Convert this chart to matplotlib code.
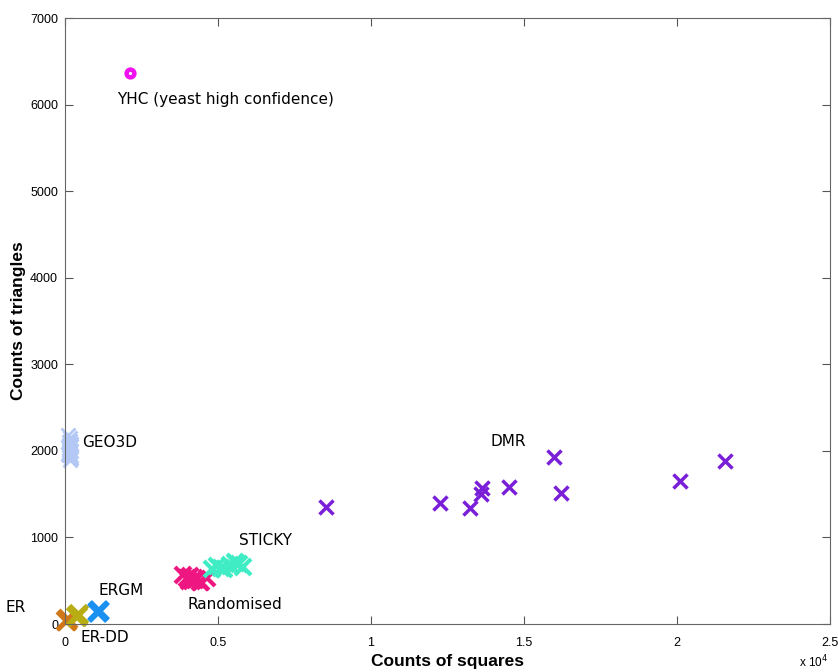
import numpy as np
import matplotlib.pyplot as plt

# Counts of squares (x) and triangles (y) for each network model
dmr_sq = [8530, 12250, 13240, 13630, 13600, 14500, 15980, 16200, 20100, 21570]
dmr_tri = [1351, 1397, 1340, 1570, 1500, 1582, 1928, 1513, 1651, 1882]

yhc_sq = [2120]
yhc_tri = [6362]

geo_sq = [110, 150, 180, 130, 160, 200, 120, 170, 140, 190, 150, 110, 180, 130, 160, 200, 140, 120]
geo_tri = [2180, 2120, 2060, 2010, 1960, 1920, 2100, 2040, 1990, 1940, 2150, 1970, 2000, 2070, 1900, 2080, 2030, 1950]

er_sq = [60, 90, 40]
er_tri = [40, 55, 30]

erdd_sq = [380, 430, 350]
erdd_tri = [95, 110, 90]

ergm_sq = [1080, 1120]
ergm_tri = [140, 155]

rand_sq = [3850, 4000, 4150, 4300, 4450, 4650, 4100, 4250, 4400, 4050]
rand_tri = [570, 530, 500, 520, 490, 530, 560, 510, 480, 500]

sticky_sq = [4800, 4950, 5200, 5400, 5550, 5700, 5800, 5100, 5600]
sticky_tri = [630, 670, 640, 680, 720, 690, 660, 650, 710]

xticks = [0, 5000, 10000, 15000, 20000, 25000]
xticklabels = ['0', '0.5', '1', '1.5', '2', '2.5']
yticks = [0, 1000, 2000, 3000, 4000, 5000, 6000, 7000]

fig = plt.figure(figsize=(8.38, 6.72), dpi=100)
ax = fig.add_axes([0.0776, 0.0714, 0.9129, 0.9016])

mk = dict(linestyle='none', clip_on=False)
ax.plot(geo_sq, geo_tri, 'x', color='#b3c8f5', markersize=10, mew=2, **mk)
ax.plot(er_sq, er_tri, 'x', color='#d07818', markersize=13, mew=3, **mk)
ax.plot(erdd_sq, erdd_tri, 'x', color='#b8ae14', markersize=13, mew=3.5, **mk)
ax.plot(ergm_sq, ergm_tri, 'x', color='#1a90f0', markersize=13, mew=4, **mk)
ax.plot(rand_sq, rand_tri, 'x', color='#ee1680', markersize=12, mew=3, **mk)
ax.plot(sticky_sq, sticky_tri, 'x', color='#40ecc4', markersize=12, mew=3, **mk)
ax.plot(dmr_sq, dmr_tri, 'x', color='#7a1fd8', markersize=10, mew=2.5, **mk)
ax.plot(yhc_sq, yhc_tri, 'o', color='#f010f0', mfc='white', markersize=5.6, mew=3.2, **mk)

# Model names next to the clusters
lbl = dict(fontsize=11, family='DejaVu Sans', clip_on=False)
ax.text(1700, 6060, 'YHC (yeast high confidence)', va='center', **lbl)
ax.text(550, 2100, 'GEO3D', va='center', **lbl)
ax.text(13900, 2110, 'DMR', va='center', **lbl)
ax.text(5700, 960, 'STICKY', va='center', **lbl)
ax.text(1100, 390, 'ERGM', va='center', **lbl)
ax.text(4000, 230, 'Randomised', va='center', **lbl)
ax.text(-1950, 190, 'ER', va='center', **lbl)
ax.text(500, -160, 'ER-DD', va='center', **lbl)

ax.set_xlim(0, 25000)
ax.set_ylim(0, 7000)
ax.set_xticks(xticks)
ax.set_xticklabels(xticklabels)
ax.set_yticks(yticks)
ax.tick_params(direction='in', length=6, color='#555555', labelsize=9,
               top=True, right=True)
ax.tick_params(axis='x', pad=9)
ax.tick_params(axis='y', pad=5)
for lab in ax.get_xticklabels() + ax.get_yticklabels():
    lab.set_family('Liberation Sans')
for s in ax.spines.values():
    s.set_color('#666666')

ax.set_xlabel('Counts of squares', fontsize=12.5, fontweight='bold',
              family='Liberation Sans', labelpad=4)
ax.set_ylabel('Counts of triangles', fontsize=12.5, fontweight='bold',
              family='Liberation Sans', labelpad=3)
fig.text(0.988, 0.003, r'x 10$^4$', ha='right', va='bottom', fontsize=8.5,
         family='Liberation Sans')

fig.savefig('out.png', dpi=100)
